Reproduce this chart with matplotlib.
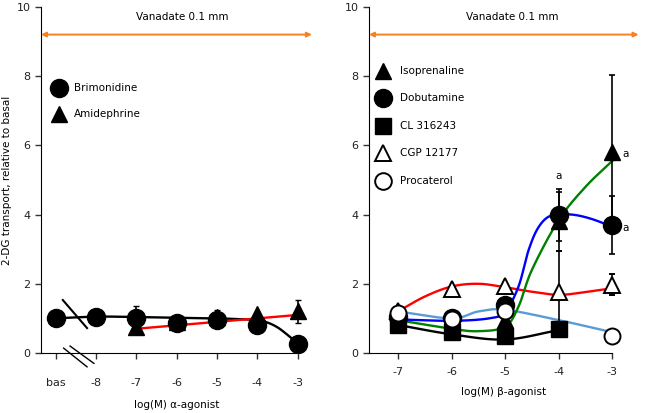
import numpy as np
import matplotlib
matplotlib.use("Agg")
import matplotlib.pyplot as plt

# ---- data ----
# left panel: alpha-agonists (x = log M, "bas" plotted at -9)
alpha_ticks = [-9, -8, -7, -6, -5, -4, -3]
alpha_ticklabels = ["bas", "-8", "-7", "-6", "-5", "-4", "-3"]

brim_x = [-9, -8, -7, -6, -5, -4, -3]
brim_y = [1.0, 1.05, 1.02, 0.88, 0.95, 0.8, 0.25]
brim_err = [0, 0, 0.33, 0, 0, 0, 0]
brim_fit_x = [-9, -8, -7, -6, -5, -4.5, -4, -3.75, -3.5, -3.25, -3]
brim_fit_y = [1.0, 1.05, 1.04, 1.02, 1.0, 0.98, 0.95, 0.88, 0.74, 0.52, 0.27]

amid_x = [-7, -6, -5, -4, -3]
amid_y = [0.75, 0.9, 1.05, 1.12, 1.2]
amid_err = [0, 0, 0.2, 0, 0.32]
amid_fit_x = [-7, -3]
amid_fit_y = [0.7, 1.1]

# right panel: beta-agonists
beta_ticks = [-7, -6, -5, -4, -3]

iso_x = [-7, -6, -5, -4, -3]
iso_y = [1.0, 0.7, 0.95, 3.8, 5.8]
iso_err = [0, 0, 0, 0.85, 2.22]
iso_fit_x = [-7, -6, -5.5, -5, -4.75, -4.5, -4, -3.5, -3]
iso_fit_y = [0.95, 0.7, 0.63, 0.76, 1.34, 2.4, 3.84, 4.8, 5.55]

dob_x = [-7, -6, -5, -4, -3]
dob_y = [1.05, 1.0, 1.4, 4.0, 3.7]
dob_err = [0, 0, 0, 0.75, 0.85]
dob_fit_x = [-7, -6, -5.3, -5, -4.75, -4.56, -4.37, -4.13, -3.76, -3.4, -3]
dob_fit_y = [0.97, 0.93, 1.0, 1.19, 1.92, 2.98, 3.65, 3.98, 4.0, 3.88, 3.65]

cl_x = [-7, -6, -5, -4]
cl_y = [0.8, 0.6, 0.5, 0.7]
cl_fit_x = [-7, -6, -5, -4]
cl_fit_y = [0.81, 0.54, 0.39, 0.66]

cgp_x = [-7, -6, -5, -4, -3]
cgp_y = [1.2, 1.85, 1.95, 1.75, 1.97]
cgp_err = [0, 0, 0, 1.2, 0.3]
cgp_fit_x = [-7, -6.5, -6, -5.5, -5, -4.5, -4, -3.5, -3]
cgp_fit_y = [1.2, 1.63, 1.92, 2.0, 1.9, 1.77, 1.68, 1.76, 1.87]

pro_x = [-7, -6, -5, -3]
pro_y = [1.15, 0.97, 1.2, 0.5]
pro_fit_x = [-7, -6, -5.5, -5, -4, -3]
pro_fit_y = [1.2, 1.0, 1.2, 1.25, 0.95, 0.6]


def smooth(xs, ys, n=30):
    # catmull-rom through the read-off curve points
    xs = np.asarray(xs, float)
    ys = np.asarray(ys, float)
    if len(xs) < 3:
        return xs, ys
    px = np.concatenate([[2 * xs[0] - xs[1]], xs, [2 * xs[-1] - xs[-2]]])
    py = np.concatenate([[2 * ys[0] - ys[1]], ys, [2 * ys[-1] - ys[-2]]])
    ox, oy = [], []
    t = np.linspace(0, 1, n, endpoint=False)
    for i in range(1, len(px) - 2):
        for p, out in ((px, ox), (py, oy)):
            p0, p1, p2, p3 = p[i - 1], p[i], p[i + 1], p[i + 2]
            out.extend(0.5 * (2 * p1 + (-p0 + p2) * t + (2 * p0 - 5 * p1 + 4 * p2 - p3) * t ** 2
                              + (-p0 + 3 * p1 - 3 * p2 + p3) * t ** 3))
    ox.append(xs[-1])
    oy.append(ys[-1])
    return np.array(ox), np.array(oy)


orange = "#f58220"
lw = 1.7
plt.rcParams["font.family"] = "DejaVu Sans"

fig = plt.figure(figsize=(6.48, 4.13), dpi=100)
axL = fig.add_axes([0.0633, 0.1453, 0.418, 0.838])
axR = fig.add_axes([0.5694, 0.1453, 0.416, 0.838])


def style(ax, xmin, xmax):
    ax.set_ylim(0, 10)
    ax.set_xlim(xmin, xmax)
    for s in ("top", "right"):
        ax.spines[s].set_visible(False)
    ax.spines["bottom"].set_bounds(xmin, -3)
    ax.set_yticks([0, 2, 4, 6, 8, 10])
    ax.tick_params(labelsize=8, length=4, width=1, color="#333333", labelcolor="#222222")
    ax.text(np.mean([xmin, xmax]) + 0.15, 9.72, "Vanadate 0.1 mm", ha="center", va="center", fontsize=7.5)
    ax.annotate("", xy=(xmax, 9.2), xytext=(xmin, 9.2),
                arrowprops=dict(arrowstyle="<|-|>", color=orange, lw=1.4, mutation_scale=7,
                                shrinkA=0, shrinkB=0), annotation_clip=False)


# ---- left panel ----
style(axL, -9.36, -2.65)
axL.set_xticks(alpha_ticks)
axL.set_xticklabels(alpha_ticklabels)
axL.tick_params(axis="x", pad=14)
axL.set_xlabel("log(M) \u03b1-agonist", fontsize=7.5, labelpad=9)
axL.set_ylabel("2-DG transport, relative to basal", fontsize=7.5)
axL.yaxis.set_label_coords(-0.108, 0.5)

sx, sy = smooth(brim_fit_x, brim_fit_y)
axL.plot(sx, sy, color="black", lw=lw, zorder=2)
axL.plot(amid_fit_x, amid_fit_y, color="red", lw=lw, zorder=2)
axL.errorbar(amid_x, amid_y, yerr=amid_err, fmt="^", color="black", ms=12,
             ecolor="black", elinewidth=1.2, capsize=2.5, zorder=3)
axL.errorbar(brim_x, brim_y, yerr=brim_err, fmt="o", color="black", ms=13,
             ecolor="black", elinewidth=1.2, capsize=2.5, zorder=4)

# axis break marks
axL.plot([-8.82, -8.22], [1.53, 0.72], color="black", lw=1.5, clip_on=False)
axL.plot([-8.8, -8.22], [0.14, -0.4], color="black", lw=1.0, clip_on=False)
axL.plot([-8.64, -8.05], [0.2, -0.3], color="black", lw=1.0, clip_on=False)

axL.plot([-8.92], [7.66], "o", color="black", ms=13, clip_on=False)
axL.text(-8.54, 7.66, "Brimonidine", va="center", fontsize=7.5)
axL.plot([-8.92], [6.9], "^", color="black", ms=12)
axL.text(-8.54, 6.9, "Amidephrine", va="center", fontsize=7.5)

# ---- right panel ----
style(axR, -7.54, -2.51)
axR.set_xticks(beta_ticks)
axR.set_xticklabels([str(v) for v in beta_ticks])
axR.tick_params(axis="x", pad=6)
axR.set_xlabel("log(M) \u03b2-agonist", fontsize=7.5, labelpad=7)

for fx, fy, c in ((cl_fit_x, cl_fit_y, "black"), (pro_fit_x, pro_fit_y, "#5b9bd5"),
                  (cgp_fit_x, cgp_fit_y, "red"), (iso_fit_x, iso_fit_y, "green"),
                  (dob_fit_x, dob_fit_y, "blue")):
    sx, sy = smooth(fx, fy)
    axR.plot(sx, sy, color=c, lw=lw, zorder=2)

eb = dict(ecolor="black", elinewidth=1.2, capsize=2.5, capthick=1.2)
axR.errorbar(cgp_x, cgp_y, yerr=cgp_err, fmt="^", mfc="white", mec="black", mew=1.4, ms=11, zorder=3, **eb)
axR.errorbar(iso_x, iso_y, yerr=iso_err, fmt="^", color="black", ms=12, zorder=4, **eb)
axR.errorbar(dob_x, dob_y, yerr=dob_err, fmt="o", color="black", ms=13, zorder=4, **eb)
axR.plot(cl_x, cl_y, "s", color="black", ms=11.5, zorder=5)
axR.plot(pro_x, pro_y, "o", mfc="white", mec="black", mew=1.4, ms=11.5, zorder=6)

axR.text(-4, 5.1, "a", ha="center", va="center", fontsize=7.5)
axR.text(-2.76, 5.75, "a", ha="center", va="center", fontsize=7.5)
axR.text(-2.76, 3.62, "a", ha="center", va="center", fontsize=7.5)

leg_y = [8.15, 7.37, 6.56, 5.77, 4.97]
leg_names = ["Isoprenaline", "Dobutamine", "CL 316243", "CGP 12177", "Procaterol"]
leg_style = [dict(marker="^", color="black", ms=12),
             dict(marker="o", color="black", ms=13),
             dict(marker="s", color="black", ms=12),
             dict(marker="^", mfc="white", mec="black", mew=1.4, ms=12),
             dict(marker="o", mfc="white", mec="black", mew=1.4, ms=12)]
for yy, name, st in zip(leg_y, leg_names, leg_style):
    axR.plot([-7.27], [yy], ls="none", **st)
    axR.text(-6.96, yy, name, va="center", fontsize=7.5)

fig.savefig("out.png", dpi=100)
